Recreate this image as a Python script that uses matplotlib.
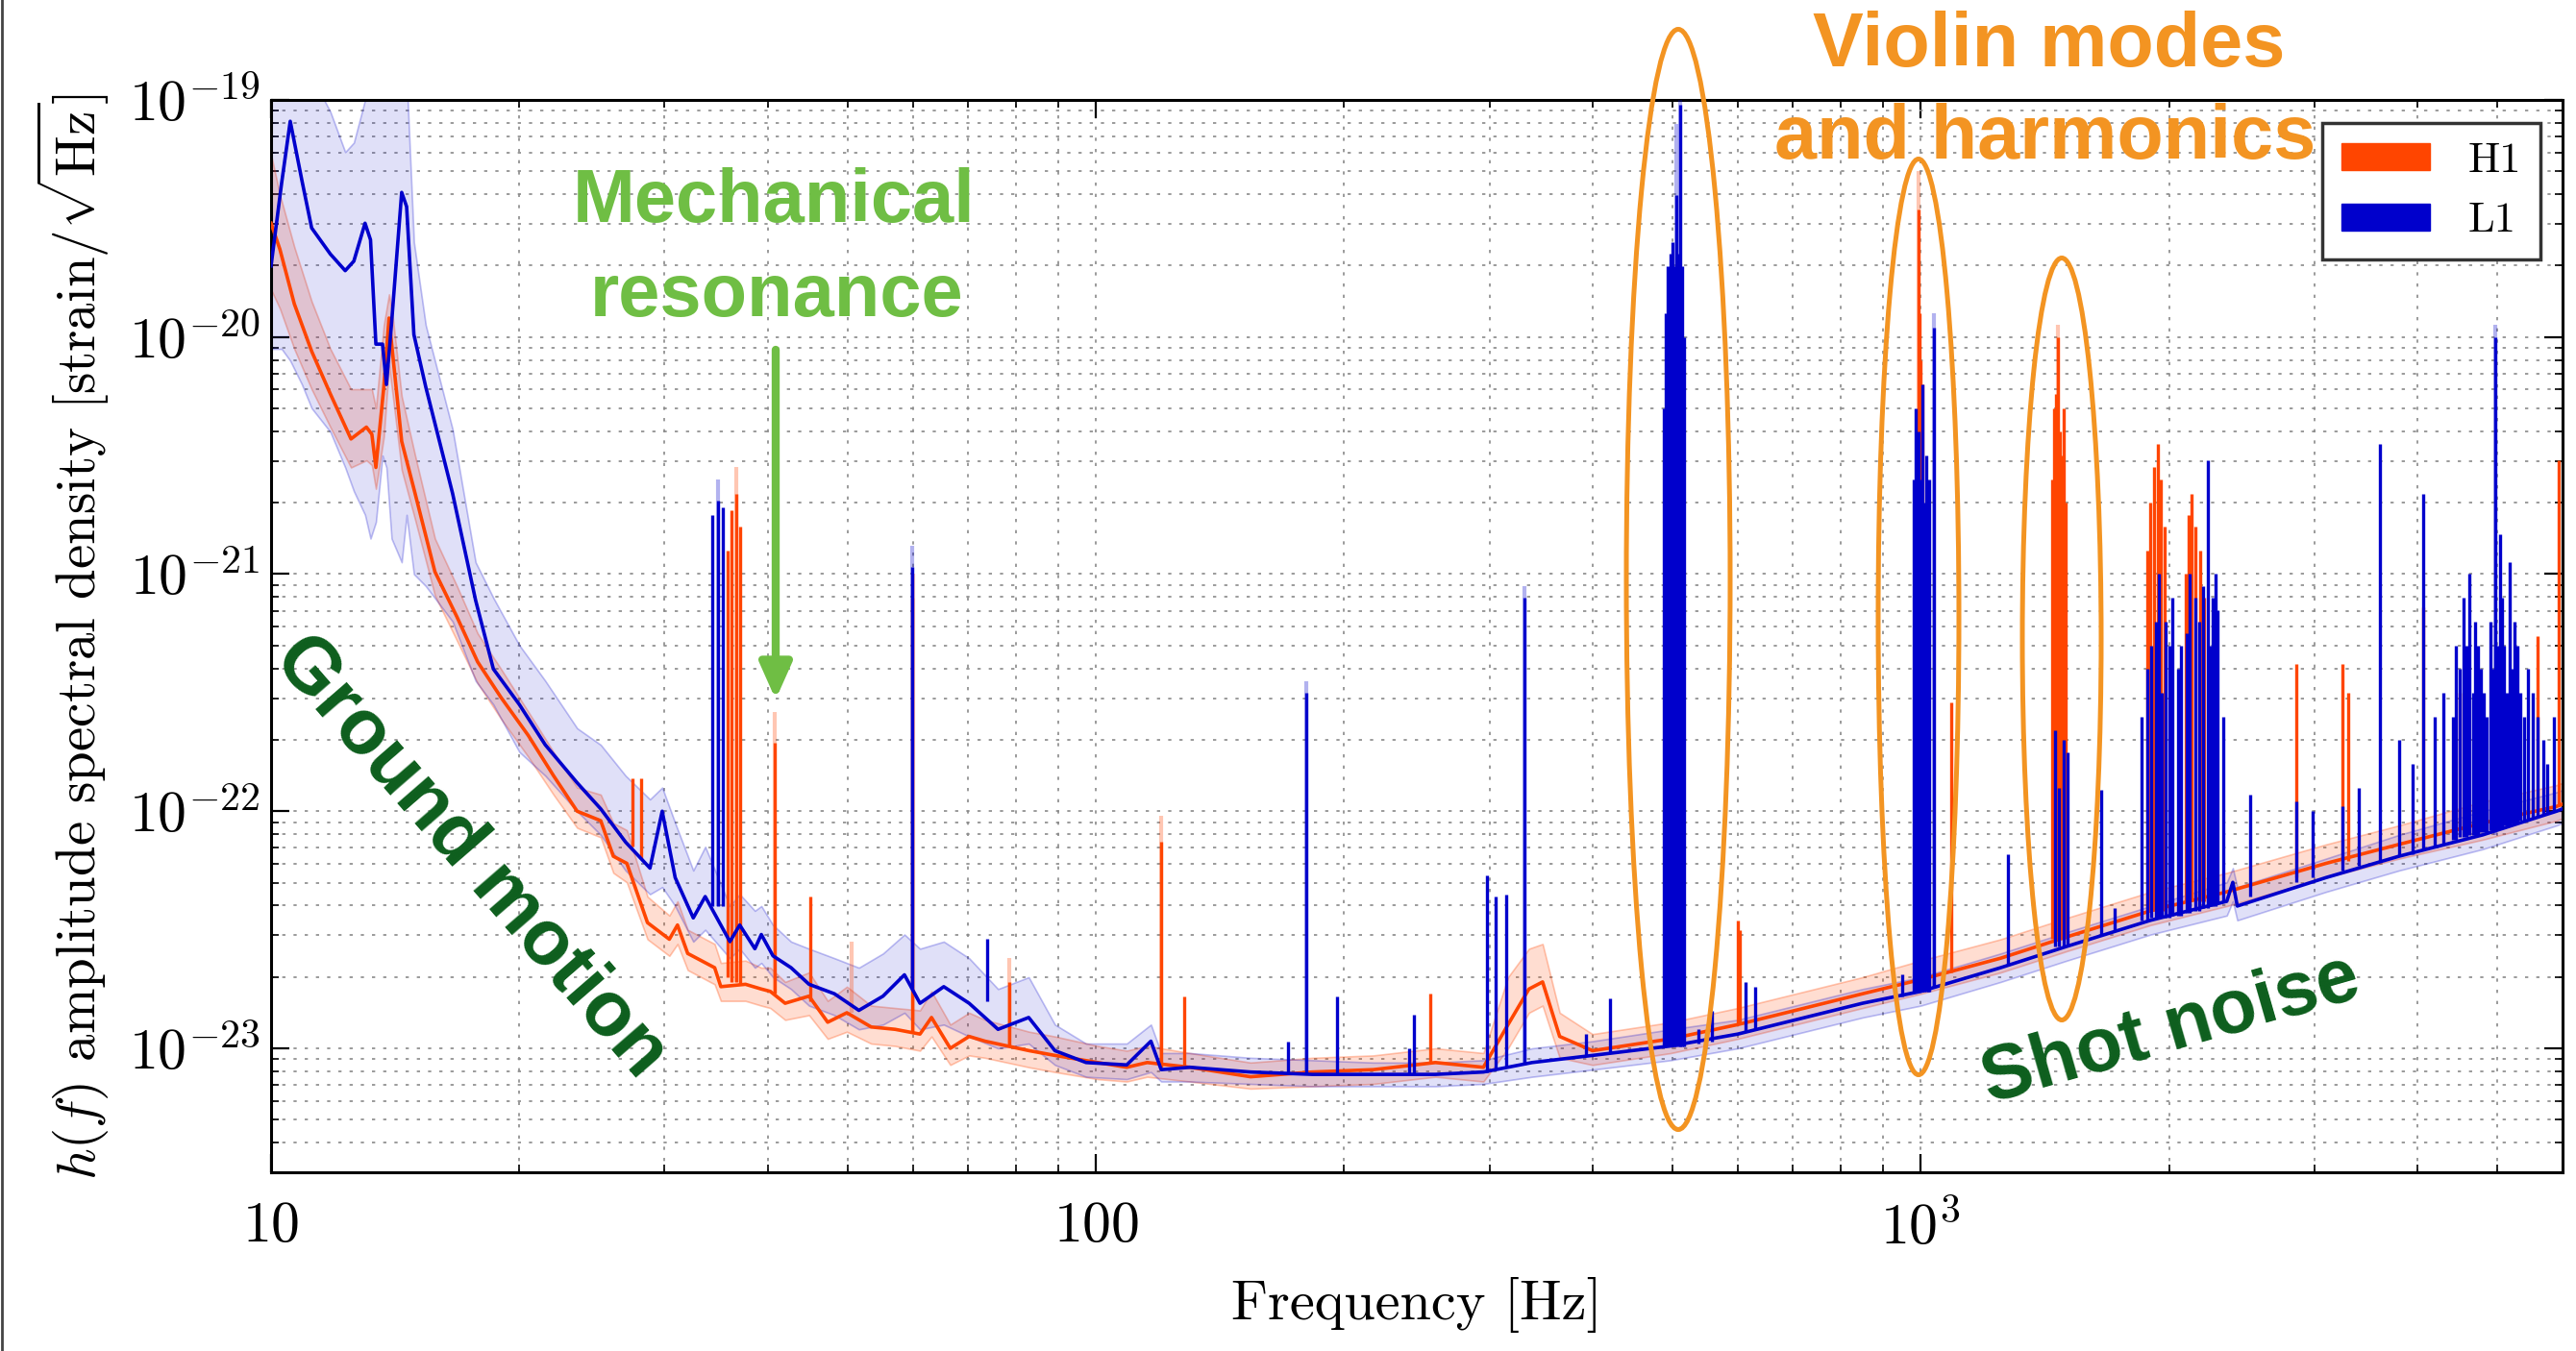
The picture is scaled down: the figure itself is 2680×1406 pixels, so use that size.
import matplotlib
matplotlib.use("Agg")
import matplotlib.pyplot as plt
from matplotlib.patches import Ellipse, Patch
from matplotlib.lines import Line2D
from matplotlib.ticker import FixedLocator, FixedFormatter, LogLocator, NullFormatter
import numpy as np

plt.rcParams['font.family'] = 'serif'
plt.rcParams['font.serif'] = ['cmr10', 'DejaVu Serif']
plt.rcParams['mathtext.fontset'] = 'cm'
plt.rcParams['axes.formatter.use_mathtext'] = True

# ---- data (log10 of strain ASD) ----
h1_freq = [10.0, 10.25, 10.67, 11.2, 11.8, 12.5, 13.05, 13.25, 13.4, 13.7,
           13.9, 14.05, 14.4, 14.95, 15.8, 16.8, 17.8, 19.0, 20.5, 22.0,
           23.5, 25.1, 26.0, 27.0, 28.6, 30.4, 31.1, 32.0, 34.5, 35.1,
           37.6, 39.3, 40.3, 42.0, 44.9, 47.3, 49.9, 53.4, 57.1, 61.2,
           63.2, 66.6, 70.2, 73.4, 83.0, 89.2, 100.5, 109, 115.4, 130,
           154, 183, 217, 258, 295, 316, 335, 348, 365, 400,
           498, 600, 724, 850, 1000, 1250, 1504, 1900, 2350, 3100,
           3800, 4800, 5900, 6000]
h1_med = [-19.52, -19.63, -19.86, -20.06, -20.24, -20.43, -20.38, -20.41, -20.55, -20.21,
          -19.92, -20.08, -20.44, -20.66, -20.99, -21.18, -21.37, -21.52, -21.68, -21.85,
          -22.00, -22.04, -22.19, -22.22, -22.47, -22.54, -22.48, -22.60, -22.66, -22.74,
          -22.73, -22.75, -22.76, -22.81, -22.78, -22.89, -22.85, -22.91, -22.92, -22.94,
          -22.87, -23.00, -22.95, -22.97, -23.01, -23.03, -23.06, -23.08, -23.06, -23.08,
          -23.12, -23.10, -23.09, -23.06, -23.08, -22.90, -22.75, -22.72, -22.95, -23.01,
          -22.96, -22.90, -22.83, -22.77, -22.71, -22.62, -22.53, -22.42, -22.34, -22.22,
          -22.14, -22.05, -21.98, -21.97]
h1_lo = [-19.80, -19.88, -20.05, -20.22, -20.38, -20.55, -20.52, -20.54, -20.64, -20.42,
         -20.12, -20.25, -20.56, -20.77, -21.09, -21.28, -21.46, -21.61, -21.77, -21.93,
         -22.07, -22.11, -22.26, -22.30, -22.54, -22.61, -22.56, -22.67, -22.73, -22.80,
         -22.80, -22.82, -22.83, -22.88, -22.86, -22.96, -22.93, -22.98, -22.99, -23.01,
         -22.95, -23.07, -23.03, -23.04, -23.08, -23.10, -23.13, -23.14, -23.12, -23.14,
         -23.17, -23.16, -23.15, -23.12, -23.14, -23.00, -22.85, -22.82, -23.04, -23.07,
         -23.02, -22.96, -22.89, -22.83, -22.77, -22.68, -22.59, -22.48, -22.40, -22.28,
         -22.20, -22.12, -22.04, -22.03]
h1_hi = [-19.23, -19.40, -19.62, -19.85, -20.05, -20.22, -20.22, -20.22, -20.30, -19.95,
         -19.82, -19.92, -20.25, -20.50, -20.85, -21.05, -21.25, -21.40, -21.58, -21.75,
         -21.90, -21.93, -22.05, -22.08, -22.36, -22.44, -22.38, -22.50, -22.56, -22.64,
         -22.63, -22.66, -22.66, -22.72, -22.68, -22.80, -22.74, -22.82, -22.83, -22.84,
         -22.76, -22.90, -22.85, -22.88, -22.93, -22.95, -22.99, -23.01, -22.99, -23.02,
         -23.06, -23.04, -23.03, -23.00, -23.02, -22.70, -22.58, -22.56, -22.85, -22.94,
         -22.89, -22.83, -22.76, -22.70, -22.63, -22.54, -22.45, -22.34, -22.26, -22.14,
         -22.06, -21.96, -21.89, -21.88]

l1_freq = [10.0, 10.3, 10.55, 10.9, 11.2, 11.8, 12.3, 12.6, 13.0, 13.2,
           13.4, 13.65, 13.8, 14.0, 14.4, 14.6, 14.9, 15.4, 16.6, 17.7,
           18.6, 20.0, 21.5, 23.5, 25.1, 26.9, 28.8, 29.8, 30.9, 32.5,
           33.6, 36.0, 37.0, 38.6, 39.3, 40.6, 42.7, 44.9, 48.2, 51.6,
           55.2, 58.6, 61.2, 65.4, 70.2, 76.1, 82.9, 89.2, 97.3, 109,
           116.6, 120, 130, 154, 183, 217, 258, 295, 338, 400,
           498, 600, 724, 850, 1000, 1250, 1504, 1900, 2350, 2390,
           2420, 3100, 3800, 4800, 5900, 6000]
l1_med = [-19.70, -19.35, -19.09, -19.34, -19.54, -19.65, -19.72, -19.68, -19.52, -19.59,
          -20.03, -20.03, -20.20, -19.94, -19.39, -19.45, -19.99, -20.21, -20.66, -21.11,
          -21.40, -21.55, -21.72, -21.88, -21.99, -22.13, -22.24, -22.00, -22.28, -22.45,
          -22.36, -22.55, -22.48, -22.58, -22.52, -22.61, -22.66, -22.73, -22.77, -22.84,
          -22.78, -22.69, -22.81, -22.74, -22.81, -22.92, -22.87, -23.01, -23.06, -23.07,
          -22.97, -23.09, -23.08, -23.10, -23.11, -23.11, -23.11, -23.10, -23.06, -23.03,
          -22.99, -22.94, -22.87, -22.81, -22.76, -22.66, -22.57, -22.46, -22.38, -22.30,
          -22.40, -22.28, -22.19, -22.10, -22.00, -21.99]
l1_lo = [-20.05, -20.05, -20.10, -20.20, -20.30, -20.40, -20.55, -20.65, -20.75, -20.85,
         -20.78, -20.50, -20.55, -20.85, -20.95, -20.75, -21.00, -21.05, -21.20, -21.45,
         -21.55, -21.75, -21.85, -22.00, -22.10, -22.25, -22.35, -22.32, -22.40, -22.55,
         -22.50, -22.62, -22.58, -22.66, -22.64, -22.70, -22.75, -22.82, -22.86, -22.92,
         -22.90, -22.85, -22.92, -22.90, -22.95, -23.00, -22.98, -23.07, -23.12, -23.13,
         -23.10, -23.14, -23.14, -23.15, -23.16, -23.16, -23.16, -23.15, -23.12, -23.09,
         -23.05, -23.00, -22.93, -22.87, -22.82, -22.72, -22.63, -22.52, -22.44, -22.38,
         -22.46, -22.34, -22.25, -22.16, -22.06, -22.05]
l1_hi = [-18.90, -18.90, -18.90, -18.90, -18.90, -19.05, -19.22, -19.18, -19.00, -18.90,
         -18.90, -18.90, -18.90, -18.90, -18.90, -18.90, -19.60, -19.95, -20.39, -20.95,
         -21.10, -21.30, -21.45, -21.65, -21.72, -21.85, -21.95, -21.90, -22.05, -22.25,
         -22.15, -22.40, -22.35, -22.42, -22.40, -22.48, -22.55, -22.58, -22.62, -22.66,
         -22.60, -22.52, -22.58, -22.55, -22.62, -22.75, -22.70, -22.90, -22.98, -22.98,
         -22.90, -23.02, -23.02, -23.04, -23.05, -23.06, -23.06, -23.05, -23.00, -22.97,
         -22.92, -22.88, -22.81, -22.75, -22.70, -22.60, -22.51, -22.40, -22.30, -22.24,
         -22.32, -22.20, -22.10, -22.00, -21.92, -21.91]

# narrow lines: frequency, floor level, peak level
h1_spike_f = [27.4, 28.1, 35.8, 36.2, 36.6, 37.0, 40.8, 45.0, 59.8, 78.6, 120, 128, 254, 600, 604,
              990, 994, 997, 1000, 1005, 1090,
              1445, 1453, 1460, 1467, 1474, 1482, 1490, 1497,
              1880, 1900, 1920, 1937, 1955, 1975, 2093, 2110, 2130, 2150, 2180, 2207,
              2855, 3245, 3300, 4070, 4500, 5600, 5930]
h1_spike_base = [-22.15, -22.20, -22.70, -22.72, -22.72, -22.73, -22.77, -22.80, -22.93, -22.99, -23.08, -23.08, -23.06, -22.90, -22.90,
                 -22.71, -22.71, -22.71, -22.71, -22.71, -22.68,
                 -22.54, -22.54, -22.54, -22.54, -22.54, -22.54, -22.54, -22.54,
                 -22.42, -22.42, -22.42, -22.42, -22.42, -22.42, -22.38, -22.38, -22.38, -22.38, -22.38, -22.38,
                 -22.28, -22.22, -22.21, -22.12, -22.08, -22.00, -21.98]
h1_spike_top = [-21.86, -21.86, -20.90, -20.73, -20.66, -20.80, -21.71, -22.36, -21.10, -22.72, -22.13, -22.78, -22.77, -22.46, -22.50,
                -20.40, -19.46, -19.90, -20.10, -20.20, -21.54,
                -20.60, -20.30, -20.24, -20.00, -20.40, -20.50, -20.30, -20.70,
                -20.90, -20.70, -20.55, -20.45, -20.60, -20.80, -21.00, -20.75, -20.66, -20.80, -20.90, -21.10,
                -21.38, -21.38, -21.50, -21.14, -21.50, -21.26, -20.52]

l1_spike_f = [34.3, 34.8, 35.3, 59.9, 73.8, 171, 180, 196, 240, 243, 298, 305, 314, 331, 393, 420,
              488, 491, 494, 497, 500, 503, 506, 509, 511, 514, 517, 537, 559, 613, 630, 950,
              980, 985, 990, 995, 1000, 1005, 1010, 1015, 1020, 1025, 1037, 1276,
              1456, 1470, 1490, 1505, 1653, 1720,
              1850, 1880, 1905, 1930, 1945, 1960, 1980, 2000, 2020, 2050, 2070, 2100,
              2120, 2150, 2175, 2200, 2227, 2240, 2260, 2275, 2290, 2330, 2510,
              2855, 2988, 3245, 3400, 3605, 3800, 3950, 4070, 4200, 4300,
              4420, 4460, 4500, 4550, 4590, 4630, 4670, 4700, 4740, 4780, 4820, 4850,
              4900, 4930, 4966, 5000, 5040, 5070, 5100, 5140, 5180, 5210, 5250, 5290,
              5330, 5390, 5450, 5520, 5600, 5680, 5750, 5850]
l1_spike_base = [-22.40, -22.40, -22.40, -22.75, -22.80, -23.11, -23.11, -23.11, -23.11, -23.11, -23.10, -23.09, -23.08, -23.07, -23.03, -23.02,
                 -22.99, -22.99, -22.99, -22.99, -22.99, -22.99, -22.99, -22.99, -22.99, -22.99, -22.99, -22.98, -22.97, -22.93, -22.92, -22.78,
                 -22.76, -22.76, -22.76, -22.76, -22.76, -22.76, -22.76, -22.76, -22.76, -22.76, -22.74, -22.65,
                 -22.57, -22.57, -22.57, -22.57, -22.52, -22.50,
                 -22.46, -22.46, -22.45, -22.45, -22.45, -22.45, -22.45, -22.45, -22.44, -22.44, -22.44, -22.43,
                 -22.43, -22.42, -22.42, -22.41, -22.41, -22.40, -22.40, -22.40, -22.39, -22.38, -22.36,
                 -22.30, -22.28, -22.25, -22.23, -22.21, -22.19, -22.18, -22.16, -22.15, -22.14,
                 -22.12, -22.12, -22.11, -22.11, -22.11, -22.10, -22.10, -22.10, -22.10, -22.09, -22.09, -22.09,
                 -22.08, -22.08, -22.08, -22.07, -22.07, -22.07, -22.06, -22.06, -22.06, -22.05, -22.05, -22.05,
                 -22.04, -22.04, -22.03, -22.03, -22.02, -22.01, -22.01, -22.00]
l1_spike_top = [-20.75, -20.69, -20.72, -20.97, -22.54, -22.97, -21.50, -22.78, -23.00, -22.86, -22.27, -22.36, -22.35, -21.10, -22.94, -22.79,
                -20.30, -19.90, -19.70, -19.65, -19.60, -19.70, -19.40, -19.65, -19.02, -19.70, -20.00, -22.92, -22.84, -22.72, -22.74, -22.69,
                -20.60, -20.30, -20.50, -20.40, -20.60, -20.20, -20.70, -20.50, -20.90, -20.60, -19.96, -22.18,
                -21.66, -21.90, -21.70, -21.75, -21.91, -22.41,
                -21.60, -21.40, -21.30, -21.20, -21.00, -21.50, -21.20, -21.30, -21.10, -21.40, -21.30, -21.25,
                -21.00, -21.10, -21.20, -21.05, -20.52, -21.30, -21.10, -21.00, -21.15, -21.60, -21.93,
                -21.96, -22.00, -21.98, -21.90, -20.45, -21.70, -21.80, -20.66, -21.60, -21.50,
                -21.60, -21.30, -21.40, -21.10, -21.30, -21.00, -21.50, -21.20, -21.30, -21.40, -21.50, -21.60,
                -21.20, -21.40, -20.00, -21.30, -20.83, -21.10, -21.30, -21.50, -20.95, -21.40, -21.20, -21.30,
                -21.50, -21.60, -21.40, -21.50, -21.60, -21.70, -21.80, -21.60]

# faint lines from the upper percentile band
h1_faint_f = [36.6, 40.8, 50.5, 60.0, 78.6, 120, 994, 1467]
h1_faint_base = [-22.72, -22.77, -22.85, -22.93, -22.99, -23.08, -22.71, -22.54]
h1_faint_top = [-20.55, -21.58, -22.55, -21.00, -22.62, -22.02, -19.30, -19.95]
l1_faint_f = [34.8, 59.9, 180, 331, 506, 511, 1037, 4966]
l1_faint_base = [-22.40, -22.75, -23.11, -23.07, -22.99, -22.99, -22.74, -22.10]
l1_faint_top = [-20.60, -20.88, -21.45, -21.05, -19.10, -18.95, -19.90, -19.95]

H1C = '#ff4500'
L1C = '#0000cc'
ORANGE = '#f39422'
GREEN = '#6fbe44'
DKGREEN = '#0d5e1d'

W, H = 2680, 1406
fig = plt.figure(figsize=(26.8, 14.06), dpi=100)
ax = fig.add_axes([282 / W, 1 - 1220 / H, 2384 / W, 1116 / H])


def p(v):
    return 10 ** np.asarray(v)


ax.fill_between(h1_freq, p(h1_lo), p(h1_hi), facecolor=(1, 0.27, 0, 0.18),
                edgecolor=(1, 0.27, 0, 0.3), lw=1.2, zorder=2)
ax.fill_between(l1_freq, p(l1_lo), p(l1_hi), facecolor=(0, 0, 0.8, 0.12),
                edgecolor=(0, 0, 0.8, 0.25), lw=1.2, zorder=2.1)

ax.vlines(h1_faint_f, p(h1_faint_base), p(h1_faint_top), color=H1C, alpha=0.3, lw=3, zorder=2.5)
ax.vlines(l1_faint_f, p(l1_faint_base), p(l1_faint_top), color=L1C, alpha=0.3, lw=3, zorder=2.6)

ax.plot(h1_freq, p(h1_med), color=H1C, lw=2.6, zorder=3)
ax.vlines(h1_spike_f, p(h1_spike_base), p(h1_spike_top), color=H1C, lw=2.4, zorder=3)
ax.plot(l1_freq, p(l1_med), color=L1C, lw=2.6, zorder=3.5)
ax.vlines(l1_spike_f, p(l1_spike_base), p(l1_spike_top), color=L1C, lw=2.4, zorder=3.5)

ax.set_xscale('log')
ax.set_yscale('log')
ax.set_xlim(10, 6000)
ax.set_ylim(3e-24, 1e-19)

ax.xaxis.set_major_locator(FixedLocator([10, 100, 1000]))
ax.xaxis.set_major_formatter(FixedFormatter(['$10$', '$100$', '$10^3$']))
ax.xaxis.set_minor_locator(LogLocator(base=10, subs=np.arange(2, 10)))
ax.xaxis.set_minor_formatter(NullFormatter())
ax.yaxis.set_major_locator(FixedLocator([1e-23, 1e-22, 1e-21, 1e-20, 1e-19]))
ax.yaxis.set_major_formatter(FixedFormatter(['$10^{-23}$', '$10^{-22}$', '$10^{-21}$',
                                             '$10^{-20}$', '$10^{-19}$']))
ax.yaxis.set_minor_locator(LogLocator(base=10, subs=np.arange(2, 10)))
ax.yaxis.set_minor_formatter(NullFormatter())

ax.tick_params(which='both', direction='in', top=True, right=True, labelsize=43)
ax.tick_params(which='major', length=14, width=1.6)
ax.tick_params(which='minor', length=6, width=1.2)
ax.tick_params(axis='x', which='major', pad=22)
ax.tick_params(axis='y', which='major', pad=8)
for s in ax.spines.values():
    s.set_linewidth(2.2)

ax.grid(True, which='both', ls=(0, (2, 5)), color='#8a8a8a', lw=1.2)

ax.set_xlabel('Frequency [Hz]', fontsize=42)
ax.xaxis.set_label_coords(0.5, -0.098)
ax.set_ylabel(r'$h(f)$ amplitude spectral density [strain/$\sqrt{\mathrm{Hz}}$]', fontsize=41)
ax.yaxis.set_label_coords(-0.070, 0.5)

handles = [Patch(facecolor=H1C, edgecolor=H1C), Patch(facecolor=L1C, edgecolor=L1C)]
leg = ax.legend(handles, ['H1', 'L1'], loc='upper right', fontsize=32,
                bbox_to_anchor=(1 - 23 / 2384, 1 - 24 / 1116), borderaxespad=0,
                fancybox=False, framealpha=1, edgecolor='#333333',
                handlelength=2.05, handleheight=0.6, handletextpad=0.9,
                labelspacing=0.5, borderpad=0.45)
leg.get_frame().set_linewidth(2.5)
leg.set_zorder(20)


def fx(px):
    return px / W


def fy(py):
    return 1 - py / H


# violin mode ellipses
for cx, cy, ew, eh in [(1746, 603, 108, 1145), (1996, 642, 84, 953), (2145, 665, 82, 793)]:
    fig.add_artist(Ellipse((fx(cx), fy(cy)), ew / W, eh / H, transform=fig.transFigure,
                           fill=False, ec=ORANGE, lw=3.6, zorder=10))

bold = dict(family='Liberation Sans', fontweight='bold', ha='center', va='center', zorder=11)
fig.text(fx(2132), fy(48), 'Violin modes', fontsize=57, color=ORANGE, **bold)
fig.text(fx(2128), fy(145), 'and harmonics', fontsize=57, color=ORANGE, **bold)
fig.text(fx(805), fy(210), 'Mechanical', fontsize=56, color=GREEN, **bold)
fig.text(fx(808), fy(308), 'resonance', fontsize=56, color=GREEN, **bold)
fig.text(fx(489), fy(892), 'Ground motion', fontsize=58, color=DKGREEN, rotation=-49,
         rotation_mode='anchor', **bold)
fig.text(fx(2259), fy(1073), 'Shot noise', fontsize=57, color=DKGREEN, rotation=16,
         rotation_mode='anchor', **bold)

ax.annotate('', xy=(fx(807), fy(728)), xytext=(fx(807), fy(364)),
            xycoords='figure fraction', textcoords='figure fraction',
            arrowprops=dict(arrowstyle='-|>,head_length=0.9,head_width=0.4',
                            mutation_scale=25, lw=6, color=GREEN,
                            shrinkA=0, shrinkB=0), zorder=12)

fig.add_artist(Line2D([0.0008, 0.0008], [0, 1], transform=fig.transFigure,
                      color='#444444', lw=2))

fig.savefig('out.png', dpi=100)
